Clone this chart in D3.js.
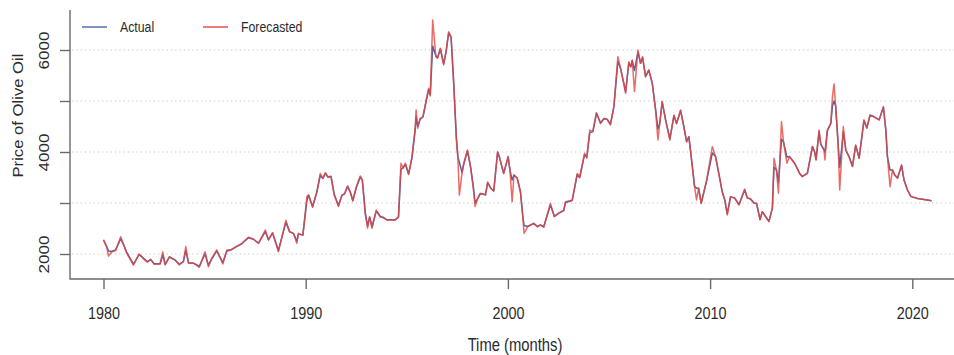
<!DOCTYPE html>
<html>
<head>
<meta charset="utf-8">
<script src="https://cdn.jsdelivr.net/npm/d3@7"></script>
<style>
  html, body { margin: 0; padding: 0; background: #fff; }
  svg { display: block; font-family: "Liberation Sans", Arial, sans-serif; }
</style>
</head>
<body>
<svg id="chart" width="954" height="355"></svg>
<script>
// Monthly olive oil price: observed series and one-step forecasts
const years = [
  1980.00, 1980.15, 1980.25, 1980.40, 1980.60, 1980.85, 1981.00, 1981.15, 1981.30, 1981.48,
  1981.76, 1981.97, 1982.17, 1982.34, 1982.50, 1982.80, 1982.93, 1983.05, 1983.26, 1983.54,
  1983.75, 1983.95, 1984.07, 1984.20, 1984.45, 1984.74, 1985.02, 1985.19, 1985.35, 1985.60,
  1985.90, 1986.10, 1986.30, 1986.56, 1986.84, 1987.17, 1987.42, 1987.66, 1988.00, 1988.16,
  1988.36, 1988.65, 1989.02, 1989.20, 1989.40, 1989.56, 1989.64, 1989.86, 1990.06, 1990.14,
  1990.34, 1990.55, 1990.72, 1990.85, 1990.97, 1991.10, 1991.25, 1991.41, 1991.62, 1991.79,
  1991.92, 1992.07, 1992.20, 1992.33, 1992.50, 1992.70, 1992.80, 1992.95, 1993.06, 1993.16,
  1993.28, 1993.49, 1993.69, 1993.85, 1994.02, 1994.43, 1994.59, 1994.71, 1994.82, 1994.93,
  1995.09, 1995.26, 1995.42, 1995.46, 1995.54, 1995.66, 1995.80, 1995.96, 1996.08, 1996.16,
  1996.28, 1996.44, 1996.52, 1996.66, 1996.82, 1996.94, 1997.07, 1997.19, 1997.32, 1997.45,
  1997.53, 1997.60, 1997.73, 1997.82, 1998.00, 1998.15, 1998.28, 1998.38, 1998.50, 1998.63,
  1998.76, 1998.89, 1999.00, 1999.15, 1999.30, 1999.49, 1999.58, 1999.79, 2000.01, 2000.10,
  2000.21, 2000.30, 2000.46, 2000.62, 2000.75, 2000.80, 2000.98, 2001.28, 2001.45, 2001.61,
  2001.77, 2002.10, 2002.30, 2002.51, 2002.76, 2002.85, 2003.18, 2003.43, 2003.55, 2003.79,
  2003.90, 2004.05, 2004.20, 2004.38, 2004.58, 2004.75, 2004.91, 2005.07, 2005.24, 2005.44,
  2005.57, 2005.73, 2005.82, 2005.98, 2006.08, 2006.15, 2006.26, 2006.43, 2006.56, 2006.66,
  2006.81, 2006.97, 2007.14, 2007.30, 2007.42, 2007.51, 2007.63, 2007.80, 2008.01, 2008.21,
  2008.34, 2008.54, 2008.70, 2008.84, 2008.95, 2009.12, 2009.23, 2009.33, 2009.43, 2009.56,
  2009.83, 2010.11, 2010.27, 2010.49, 2010.60, 2010.72, 2010.85, 2011.01, 2011.21, 2011.43,
  2011.71, 2011.84, 2012.00, 2012.17, 2012.30, 2012.47, 2012.58, 2012.75, 2012.91, 2013.08,
  2013.16, 2013.28, 2013.38, 2013.53, 2013.63, 2013.80, 2013.93, 2014.18, 2014.43, 2014.56,
  2014.81, 2015.06, 2015.17, 2015.24, 2015.39, 2015.47, 2015.63, 2015.68, 2015.80, 2015.97,
  2016.05, 2016.13, 2016.21, 2016.33, 2016.41, 2016.59, 2016.71, 2016.87, 2017.04, 2017.20,
  2017.37, 2017.61, 2017.75, 2017.91, 2018.11, 2018.36, 2018.57, 2018.69, 2018.77, 2018.90,
  2019.02, 2019.13, 2019.27, 2019.47, 2019.59, 2019.76, 2019.93, 2020.26, 2020.58, 2020.95
];

const actual = [
  2275, 2150, 2060, 2050, 2080, 2300, 2180, 2030, 1930, 1800,
  1990, 1920, 1850, 1890, 1810, 1810, 1980, 1800, 1940, 1880,
  1800, 1850, 2070, 1830, 1820, 1760, 2000, 1780, 1900, 2060,
  1830, 2060, 2080, 2140, 2200, 2320, 2290, 2210, 2440, 2280,
  2410, 2070, 2620, 2440, 2400, 2250, 2390, 2370, 3050, 3150,
  2930, 3210, 3540, 3480, 3580, 3510, 3520, 3170, 2950, 3150,
  3180, 3320, 3220, 3050, 3300, 3510, 3450, 2800, 2550, 2720,
  2540, 2840, 2730, 2710, 2670, 2670, 2720, 3650, 3700, 3760,
  3570, 3900, 4450, 4700, 4500, 4640, 4690, 5000, 5220, 5120,
  6080, 5880, 5850, 6020, 5730, 5960, 6330, 6250, 5350, 4300,
  3900, 3800, 3600, 3770, 4020, 3720, 3350, 3000, 3080, 3180,
  3175, 3160, 3400, 3290, 3240, 3990, 3900, 3580, 3900, 3650,
  3450, 3550, 3490, 3220, 2700, 2560, 2540, 2600, 2540, 2570,
  2530, 2960, 2740, 2800, 2850, 3010, 3050, 3560, 3500, 3950,
  3900, 4380, 4400, 4760, 4570, 4650, 4640, 4540, 4880, 5780,
  5640, 5350, 5180, 5750, 5670, 5790, 5600, 5960, 5740, 5850,
  5480, 5600, 5350, 4850, 4450, 4560, 4980, 4630, 4260, 4710,
  4560, 4810, 4500, 4200, 4300, 3720, 3330, 3290, 3290, 3000,
  3440, 3980, 3910, 3460, 3220, 3070, 2790, 3120, 3100, 2970,
  3260, 3100, 3080, 3000, 2990, 2680, 2830, 2730, 2640, 2900,
  3700, 3650, 3400, 4250, 4200, 3900, 3910, 3780, 3580, 3520,
  3580, 4100, 4000, 3850, 4400, 4160, 4040, 4000, 4420, 4560,
  4900, 5000, 4900, 4170, 3700, 4400, 4040, 3910, 3720, 4130,
  3880, 4620, 4470, 4720, 4690, 4630, 4880, 4430, 3910, 3645,
  3645, 3550, 3490, 3740, 3450, 3260, 3130, 3090, 3070, 3045
];

const forecast = [
  2280, 2150, 1960, 2040, 2070, 2340, 2170, 2010, 1910, 1780,
  2000, 1910, 1840, 1895, 1800, 1805, 2040, 1785, 1950, 1885,
  1785, 1850, 2145, 1820, 1820, 1740, 2045, 1750, 1915, 2080,
  1805, 2080, 2080, 2145, 2210, 2330, 2290, 2210, 2470, 2275,
  2420, 2045, 2660, 2435, 2405, 2210, 2405, 2370, 3125, 3160,
  2915, 3220, 3580, 3480, 3595, 3510, 3525, 3155, 2930, 3155,
  3180, 3340, 3220, 3040, 3320, 3530, 3450, 2765, 2505, 2735,
  2505, 2860, 2735, 2720, 2665, 2665, 2735, 3780, 3680, 3780,
  3560, 3910, 4500, 4825, 4465, 4660, 4690, 5020, 5250, 5100,
  6590, 5870, 5840, 6035, 5710, 5970, 6360, 6260, 5345, 4235,
  3845, 3155, 3580, 3780, 4040, 3715, 3320, 2930, 3090, 3190,
  3175, 3155, 3410, 3290, 3230, 4005, 3900, 3580, 3910, 3650,
  3025, 3550, 3490, 3220, 2665, 2405, 2535, 2600, 2535, 2565,
  2525, 2990, 2730, 2795, 2855, 3025, 3055, 3580, 3500, 3975,
  3880, 4430, 4400, 4770, 4560, 4660, 4640, 4530, 4890, 5870,
  5640, 5345, 5150, 5770, 5670, 5805, 5185, 6000, 5740, 5870,
  5475, 5610, 5345, 4825, 4235, 4560, 4990, 4625, 4235, 4725,
  4560, 4825, 4500, 4200, 4300, 3715, 3320, 3060, 3290, 2990,
  3450, 4105, 3910, 3450, 3220, 3060, 2765, 3125, 3100, 2960,
  3270, 3100, 3080, 3000, 2990, 2665, 2830, 2730, 2635, 2900,
  3875, 3650, 3190, 4595, 4200, 3780, 3910, 3780, 3580, 3515,
  3580, 4115, 4000, 3845, 4430, 4160, 4040, 3845, 4430, 4560,
  5085, 5335, 4900, 4170, 3255, 4500, 4040, 3910, 3715, 4135,
  3875, 4630, 4470, 4725, 4690, 4630, 4890, 4430, 3910, 3320,
  3645, 3550, 3485, 3745, 3450, 3255, 3125, 3090, 3070, 3045
];

const xTicks = [1980, 1990, 2000, 2010, 2020];
const yTicks = [2000, 3000, 4000, 5000, 6000];
const yLabelled = [2000, 4000, 6000];

const seriesNames = ["Actual", "Forecasted"];
const seriesColors = ["#4a62ab", "#e4463f"];

// Plot geometry
const W = 954, H = 355;
const plotLeft = 70, plotTop = 10, plotBottom = 279;
const stretch = 1.19; // glyphs are drawn slightly taller than wide

const svg = d3.select("#chart");

const x = d3.scaleLinear().domain([1980, 2020]).range([103.5, 912.3]);
const y = d3.scaleLinear().domain([2000, 6000]).range([254, 50]);

// Dotted horizontal grid
svg.append("g")
  .selectAll("line")
  .data(yTicks)
  .join("line")
  .attr("x1", plotLeft + 2).attr("x2", W)
  .attr("y1", d => y(d)).attr("y2", d => y(d))
  .attr("stroke", "#c9c9c9")
  .attr("stroke-width", 1.2)
  .attr("stroke-dasharray", "1.3,3");

// Series lines
const line = d3.line()
  .x(d => x(d[0]))
  .y(d => y(d[1]));

const seriesData = [
  years.map((t, i) => [t, actual[i]]),
  years.map((t, i) => [t, forecast[i]])
];

svg.append("g")
  .selectAll("path")
  .data(seriesData)
  .join("path")
  .attr("d", line)
  .attr("fill", "none")
  .attr("stroke", (d, i) => seriesColors[i])
  .attr("stroke-width", 1.5)
  .attr("stroke-opacity", (d, i) => i === 1 ? 0.8 : 1)
  .attr("stroke-linejoin", "round");

// L-shaped frame
svg.append("path")
  .attr("d", `M${plotLeft},${plotTop}V${plotBottom}H${W}`)
  .attr("fill", "none")
  .attr("stroke", "#6a6a6a")
  .attr("stroke-width", 1.4);

// Y axis
const yAxis = svg.append("g")
  .attr("transform", `translate(${plotLeft},0)`)
  .call(d3.axisLeft(y)
    .tickValues(yTicks)
    .tickSize(10)
    .tickFormat(d => yLabelled.includes(d) ? d3.format("d")(d) : ""));
yAxis.select(".domain").remove();
yAxis.selectAll("line").attr("stroke", "#6a6a6a").attr("stroke-width", 1.4);
yAxis.selectAll("text")
  .attr("x", null).attr("y", null).attr("dy", "0.35em")
  .attr("text-anchor", "middle")
  .attr("transform", `translate(-26,0) scale(1,${stretch}) rotate(-90)`)
  .attr("fill", "#2b2b2b")
  .style("font-size", "14.4px");

// X axis
const xAxis = svg.append("g")
  .attr("transform", `translate(0,${plotBottom})`)
  .call(d3.axisBottom(x)
    .tickValues(xTicks)
    .tickSize(10)
    .tickFormat(d3.format("d")));
xAxis.select(".domain").remove();
xAxis.selectAll("line").attr("stroke", "#6a6a6a").attr("stroke-width", 1.4);
xAxis.selectAll("text")
  .attr("y", null).attr("dy", "0.35em")
  .attr("transform", `translate(0,34) scale(1,${stretch})`)
  .attr("fill", "#2b2b2b")
  .style("font-size", "14.4px");

// Axis titles
svg.append("text")
  .attr("transform", `translate(515,345) scale(1,${stretch})`)
  .attr("dy", "0.35em")
  .attr("text-anchor", "middle")
  .attr("fill", "#2b2b2b")
  .style("font-size", "14.8px")
  .text("Time (months)");

svg.append("text")
  .attr("transform", `translate(18,115.5) scale(1,${stretch}) rotate(-90)`)
  .attr("dy", "0.35em")
  .attr("text-anchor", "middle")
  .attr("fill", "#2b2b2b")
  .style("font-size", "14px")
  .text("Price of Olive Oil");

// Legend
const legendX = [82, 203];
const legend = svg.append("g")
  .selectAll("g")
  .data(seriesNames)
  .join("g")
  .attr("transform", (d, i) => `translate(${legendX[i]},27)`);
legend.append("line")
  .attr("x1", 0).attr("x2", 25)
  .attr("stroke", (d, i) => seriesColors[i])
  .attr("stroke-width", 1.4);
legend.append("text")
  .attr("transform", `translate(38,0) scale(1,${stretch})`)
  .attr("dy", "0.35em")
  .attr("fill", "#2b2b2b")
  .style("font-size", "12.3px")
  .text(d => d);
</script>
</body>
</html>
